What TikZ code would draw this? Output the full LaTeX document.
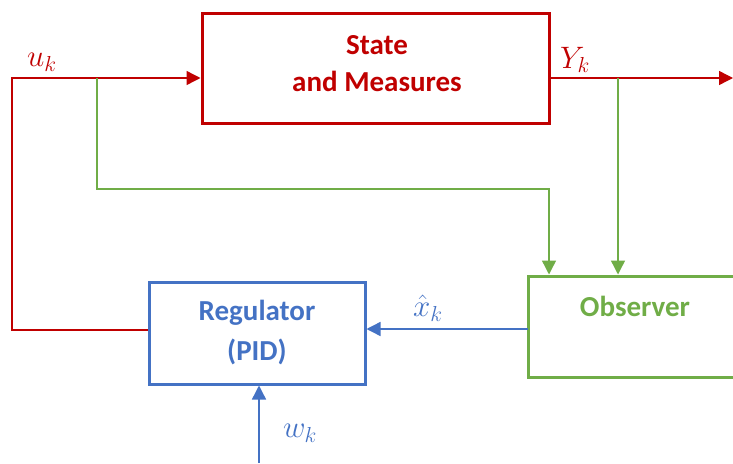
\documentclass[tikz,border=0pt]{standalone}
\usepackage{fix-cm}
\usepackage{fontspec}
\setmainfont{Carlito}
\usetikzlibrary{arrows.meta}
\definecolor{cred}{HTML}{C00000}
\definecolor{cgreen}{HTML}{70AD47}
\definecolor{cblue}{HTML}{4472C4}
\begin{document}
\begin{tikzpicture}[x=1pt,y=-1pt,
  boxstyle/.style={draw, line width=3pt, rectangle, inner sep=0pt, align=center,
    font=\fontsize{29}{37}\selectfont\bfseries},
  wire/.style={line width=1.4pt},
  tip/.style={-{Triangle[length=14pt,width=14pt]}},
  mathlab/.style={font=\fontsize{31}{34}\selectfont, inner sep=0pt}]
\useasboundingbox (0,0) rectangle (733,463);
% boxes
\node[boxstyle, draw=cred, minimum width=347pt, minimum height=110pt] (state) at (375.5,68) {};
\node[font=\fontsize{29}{37}\selectfont\bfseries, text=cred, align=center] (statetxt) at (377,64) {State\\and Measures};
\node[boxstyle, draw=cblue, text=cblue, minimum width=216pt, minimum height=102pt, font=\fontsize{29}{40}\selectfont\bfseries] (reg) at (257,333) {Regulator\\(PID)};
\node[boxstyle, draw=cgreen, minimum width=214pt, minimum height=101pt] (obs) at (635,326.5) {};
\node[font=\fontsize{29}{32}\selectfont\bfseries, text=cgreen] (obstxt) at (635,306) {Observer};
% coordinates
\coordinate (uL) at (12,78);
\coordinate (uT) at (97,78);
\coordinate (gC) at (549,189);
\coordinate (yT) at (618,78);
\coordinate (yOut) at (733,78);
\coordinate (xh) at (528,329);
\coordinate (wIn) at (259,463);
% red loop
\draw[wire, cred, tip] ([yshift=3pt]reg.west) -| (uL) -- (state.west |- uL);
\draw[wire, cred, tip] (state.east |- yOut) -- (yOut);
% green
\draw[wire, cgreen, tip] (uT) |- (gC) -- (gC |- obs.north);
\draw[wire, cgreen, tip] (yT) -- (yT |- obs.north);
% blue
\draw[wire, cblue, tip] (xh) -- (reg.east |- xh);
\draw[wire, cblue, tip] (wIn) -- (wIn |- reg.south);
% labels
\node[mathlab, text=cred] (ulab) at (42,62) {$u_k$};
\node[mathlab, text=cred] (ylab) at (575,60) {$Y_k$};
\node[mathlab, text=cblue] (xlab) at (428,308) {$\hat{x}_k$};
\node[mathlab, text=cblue] (wlab) at (300,433) {$w_k$};
\end{tikzpicture}
\end{document}
